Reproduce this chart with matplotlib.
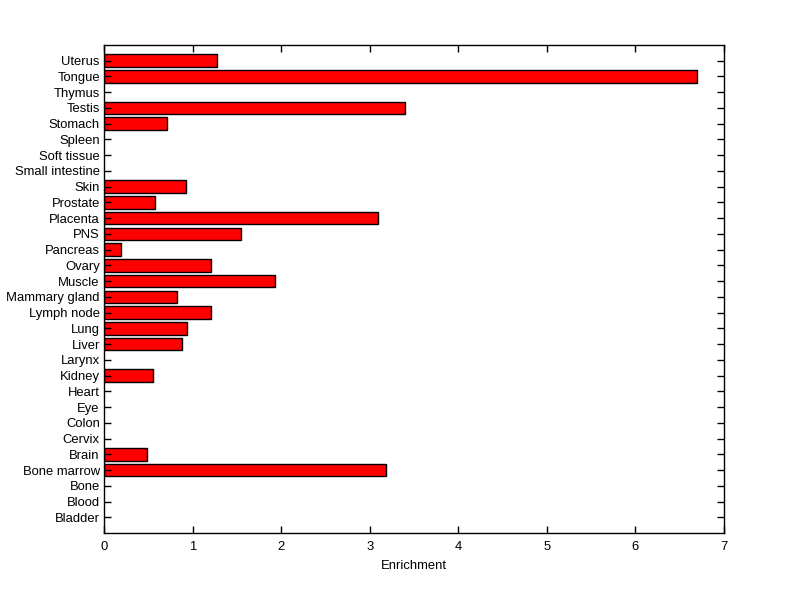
import matplotlib
matplotlib.use("Agg")
import matplotlib.pyplot as plt

categories = ["Bladder", "Blood", "Bone", "Bone marrow", "Brain", "Cervix", "Colon",
              "Eye", "Heart", "Kidney", "Larynx", "Liver", "Lung", "Lymph node",
              "Mammary gland", "Muscle", "Ovary", "Pancreas", "PNS", "Placenta",
              "Prostate", "Skin", "Small intestine", "Soft tissue", "Spleen",
              "Stomach", "Testis", "Thymus", "Tongue", "Uterus"]
values = [0, 0, 0, 3.18, 0.49, 0, 0,
          0, 0, 0.553, 0, 0.881, 0.937, 1.208,
          0.829, 1.931, 1.208, 0.196, 1.547, 3.094,
          0.576, 0.926, 0, 0, 0,
          0.711, 3.40, 0, 6.70, 1.28]
xticks = [0, 1, 2, 3, 4, 5, 6, 7]

plt.rcParams['font.family'] = ['Liberation Sans', 'DejaVu Sans']
fig = plt.figure(figsize=(8, 5.99), dpi=100)
ax = fig.add_axes([0.13, 0.11, 0.775, 0.815])
pos = list(range(1, len(categories) + 1))
nz = [(p, v) for p, v in zip(pos, values) if v > 0]
ax.barh([p for p, v in nz], [v for p, v in nz], height=0.8, color='#ff0000',
        edgecolor='black', linewidth=1.0)
ax.set_yticks(pos)
ax.set_yticklabels(categories, fontsize=9.4)
ax.set_ylim(0, len(categories) + 1)
ax.set_xlim(0, 7)
ax.set_xticks(xticks)
ax.set_xticklabels([str(t) for t in xticks], fontsize=9.4)
ax.set_xlabel("Enrichment", fontsize=9.4, labelpad=5)
ax.tick_params(direction='in', length=5, width=1, top=True, right=True)
ax.tick_params(axis='x', pad=6)
ax.tick_params(axis='y', pad=3)
for s in ax.spines.values():
    s.set_linewidth(1)
fig.savefig("out.png", dpi=100)
